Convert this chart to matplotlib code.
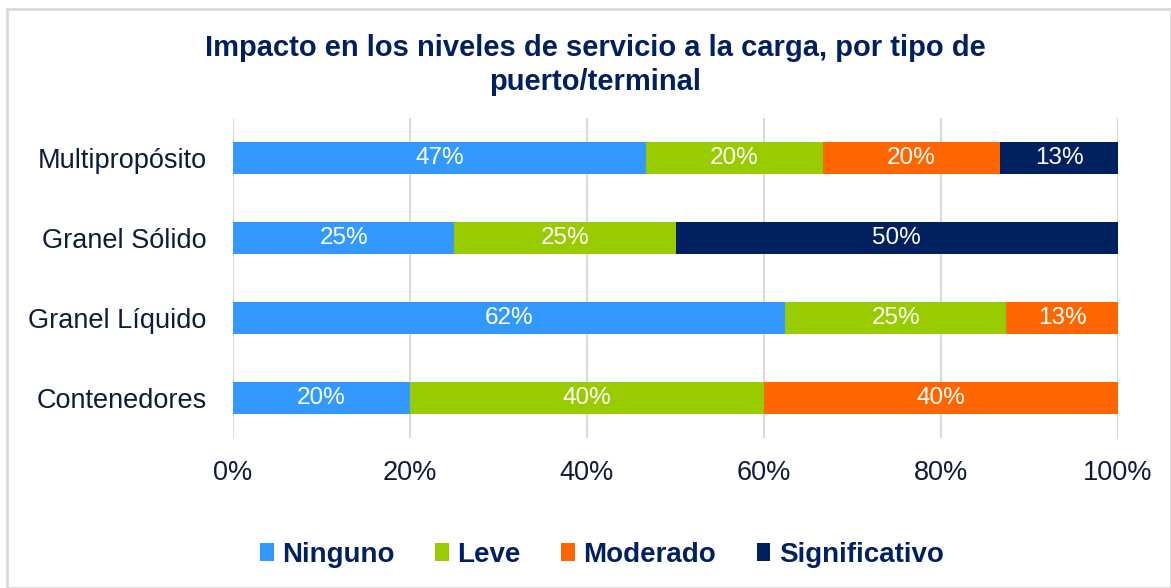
import matplotlib.pyplot as plt
from matplotlib.patches import Rectangle

plt.rcParams['font.family'] = ['Liberation Sans', 'DejaVu Sans']

puertos = ["Multipropósito", "Granel Sólido", "Granel Líquido", "Contenedores"]
ninguno = [46.67, 25.0, 62.4, 20.0]
leve = [20.0, 25.0, 25.0, 40.0]
moderado = [20.0, 0.0, 12.6, 40.0]
significativo = [13.33, 50.0, 0.0, 0.0]

series = [("Ninguno", ninguno, "#3399FF"),
          ("Leve", leve, "#99CC00"),
          ("Moderado", moderado, "#FF6600"),
          ("Significativo", significativo, "#002060")]

navy = "#002060"
txt = "#0E1B3A"

fig = plt.figure(figsize=(11.71, 5.88), dpi=100)
ax = fig.add_axes([233/1171, 1 - 438/588, (1118-233)/1171, 320/588])

# outer chart frame
fig.patches.append(Rectangle((7/1171, 0), 1 - 7/1171, 1 - 9/588, transform=fig.transFigure,
                             fill=False, edgecolor="#D9D9D9", linewidth=2))

ypos = list(range(len(puertos)))[::-1]
left = [0.0] * len(puertos)
for name, vals, color in series:
    bars = ax.barh(ypos, vals, left=left, height=0.4, color=color, label=name, zorder=3)
    for b, v, l in zip(bars, vals, left):
        if v > 0:
            ax.text(l + v / 2, b.get_y() + b.get_height() / 2, "{}%".format(int(v + 0.5)),
                    ha="center", va="center", color="white", fontsize=17.5, zorder=4)
    left = [a + b for a, b in zip(left, vals)]

ax.set_xlim(0, 100)
ax.set_ylim(-0.5, 3.5)
ax.set_yticks(ypos)
ax.set_yticklabels(puertos, fontsize=19.5, color=txt)
ax.set_xticks([0, 20, 40, 60, 80, 100])
ax.set_xticklabels(["0%", "20%", "40%", "60%", "80%", "100%"], fontsize=19.5, color=txt)
ax.tick_params(axis="y", length=0, pad=19)
ax.tick_params(axis="x", length=0, pad=16)
ax.grid(axis="x", color="#D9D9D9", linewidth=1.5, zorder=0)
for s in ax.spines.values():
    s.set_visible(False)

fig.text(595/1171, 1 - 65/588, "Impacto en los niveles de servicio a la carga, por tipo de\npuerto/terminal",
         ha="center", va="center", fontsize=21, fontweight="bold", color=navy, linespacing=1.25)

leg = fig.legend(loc="center", bbox_to_anchor=(602/1171, 1 - 555/588), ncol=4, frameon=False,
                 handlelength=0.5, handleheight=0.6, handletextpad=0.3, columnspacing=1.45,
                 prop={"size": 20, "weight": "bold"})
for t in leg.get_texts():
    t.set_color(navy)

fig.savefig("out.png", dpi=100)
